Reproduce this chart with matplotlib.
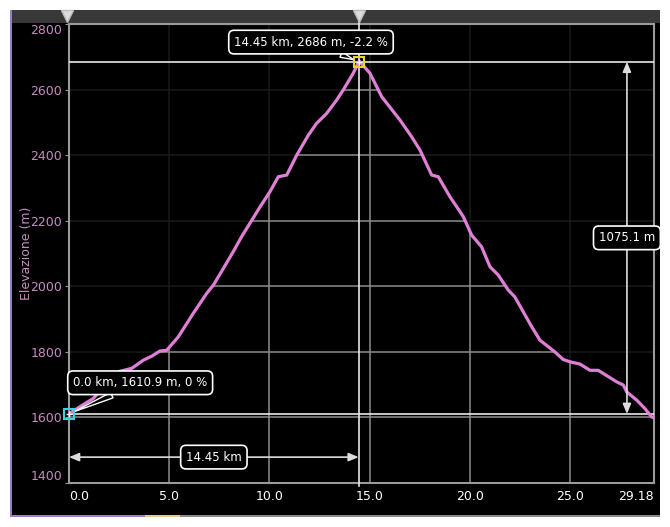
import matplotlib
matplotlib.use('Agg')
import matplotlib.pyplot as plt
import matplotlib.patches as mpatches
import matplotlib.transforms as mtrans

# elevation profile
dist_km = [0.0, 0.6, 1.21, 1.9, 2.54, 3.13, 3.71, 4.12, 4.54, 4.87, 5.45, 6.2,
           6.87, 7.2, 7.7, 8.19, 8.61, 9.53, 10.02, 10.44, 10.86, 11.36, 11.94,
           12.35, 12.85, 13.35, 13.68, 14.18, 14.45, 14.51, 15.01, 15.51, 15.6,
           16.51, 17.09, 17.51, 18.09, 18.42, 19.0, 19.67, 20.08, 20.58, 21.0,
           21.41, 21.91, 22.24, 23.08, 23.49, 24.24, 24.65, 24.99, 25.49, 25.99,
           26.4, 27.31, 27.65, 27.82, 28.32, 28.73, 29.06, 29.18]
elev_m = [1610.9, 1635, 1658, 1705, 1741, 1750, 1775, 1787, 1803, 1805, 1846, 1918,
          1979, 2004, 2055, 2106, 2152, 2243, 2289, 2335, 2340, 2401, 2462,
          2498, 2528, 2569, 2600, 2651, 2686, 2686, 2651, 2590, 2579,
          2508, 2457, 2416, 2340, 2335, 2274, 2213, 2157, 2121, 2060,
          2035, 1989, 1968, 1877, 1836, 1800, 1777, 1770, 1763, 1744,
          1744, 1709, 1699, 1678, 1653, 1627, 1602, 1599]

x_ticks = [0.0, 5.0, 10.0, 15.0, 20.0, 25.0, 29.18]
x_labels = ['0.0', '5.0', '10.0', '15.0', '20.0', '25.0', '29.18']
y_ticks = [1400, 1600, 1800, 2000, 2200, 2400, 2600, 2800]

start_km, start_m, start_grade = 0.0, 1610.9, 0
peak_km, peak_m, peak_grade = 14.45, 2686, -2.2
climb_m = 1075.1
span_km = 14.45

PINK = '#e07fd6'
LABEL_PINK = '#c98ac4'
GRID = '#8c8c8c'
FS = 8.5

fig = plt.figure(figsize=(6.7, 5.27), dpi=100)
fig.patch.set_facecolor('white')

# dark panel behind the chart + top slider bar
W, H = 670.0, 527.0
def panel(x, y, w, h, color, z):
    fig.patches.append(mpatches.Rectangle((x / W, 1 - (y + h) / H), w / W, h / H,
                                          transform=fig.transFigure, fc=color,
                                          ec='none', zorder=z))

panel(11, 10, 649, 505, 'black', -10)
panel(11, 10, 649, 13, '#383838', -9)
panel(10, 10, 1.6, 507, '#9a7cc8', -8)
panel(10, 514.5, 135, 2.5, '#9a7cc8', -8)
panel(145, 514.5, 35, 2.5, '#e6c88e', -8)
panel(180, 514.5, 480, 2.5, '#8a8a8a', -8)

ax = fig.add_axes([69 / W, 1 - 483 / H, 585 / W, 458.6 / H])
ax.set_facecolor('black')
ax.set_xlim(0, 29.18)
ax.set_ylim(1400, 2800)
ax.set_axisbelow(True)
ax.grid(True, color=GRID, lw=1.1)

ax.set_xticks(x_ticks)
ax.set_xticklabels(x_labels)
ax.set_yticks(y_ticks)
ax.tick_params(axis='x', colors='white', labelcolor='white', labelsize=FS + 0.5,
               length=0, pad=5)
ax.tick_params(axis='y', colors='#9a9a9a', labelcolor=LABEL_PINK,
               labelsize=FS + 0.5, length=3, pad=2)
xl = ax.get_xticklabels()
xl[0].set_ha('left')
xl[-1].set_ha('right')
yl = ax.get_yticklabels()
yl[0].set_va('bottom')
yl[-1].set_va('top')
for s in ax.spines.values():
    s.set_color('#9a9a9a')
    s.set_linewidth(1.5)

ax.set_ylabel('Elevazione (m)', color=LABEL_PINK, fontsize=FS + 0.5)
ax.yaxis.set_label_coords((33 - 69) / 585, 0.5)

# dim the grid above the profile
ax.fill_between(dist_km, elev_m, 2800, color='black', alpha=0.82, lw=0, zorder=1)
ax.plot(dist_km, elev_m, color=PINK, lw=2.3, zorder=4, solid_joinstyle='round')

# cursor lines
ax.axhline(peak_m, color='#e8e8e8', lw=1.2, zorder=3)
ax.axhline(start_m, color='#e8e8e8', lw=1.2, zorder=3)
top = mtrans.blended_transform_factory(ax.transData, fig.transFigure)
ax.plot([peak_km, peak_km], [1 - 486 / H, 1 - 14 / H], transform=top,
        color='#e8e8e8', lw=1.2, zorder=3, clip_on=False)
for k in (start_km - 0.1, peak_km):
    ax.plot([k], [1 - 16 / H], transform=top, marker='v', ms=9,
            color='#dcdcdc', mec='#bbbbbb', clip_on=False, zorder=6)

# measurement arrows
arrow = dict(arrowstyle='<|-|>,head_length=0.6,head_width=0.25',
             color='#dddddd', lw=1.2, shrinkA=0, shrinkB=0)
ax.annotate('', xy=(0, 1479), xytext=(span_km, 1479), arrowprops=arrow, zorder=5)
ax.annotate('', xy=(27.83, peak_m), xytext=(27.83, peak_m - climb_m),
            arrowprops=arrow, zorder=5)

box = dict(boxstyle='round,pad=0.45,rounding_size=0.45', fc='black',
           ec='white', lw=1.2)
ax.text(span_km / 2, 1479, f'{span_km} km', color='white', fontsize=FS,
        ha='center', va='center', bbox=box, zorder=6)
ax.text(27.83, peak_m - climb_m / 2, f'{climb_m} m', color='white', fontsize=FS,
        ha='center', va='center', bbox=box, zorder=6)

wedge = dict(arrowstyle='wedge,tail_width=0.5,shrink_factor=0.5', fc='black',
             ec='white', lw=1.0, shrinkA=0, shrinkB=4)
ax.annotate(f'{start_km:.1f} km, {start_m} m, {start_grade} %',
            xy=(start_km, start_m), xytext=(3.55, 1706), color='white',
            fontsize=FS, ha='center', va='center', bbox=box, arrowprops=wedge,
            zorder=7, annotation_clip=False)
ax.annotate(f'{peak_km} km, {peak_m} m, {peak_grade} %',
            xy=(peak_km, peak_m), xytext=(12.07, 2746), color='white',
            fontsize=FS, ha='center', va='center', bbox=box, arrowprops=wedge,
            zorder=7, annotation_clip=False)

# point markers
ax.plot([start_km], [start_m], marker='s', ms=7, mfc='none', mec='#3ad3e0',
        mew=1.5, clip_on=False, zorder=8)
ax.plot([peak_km], [peak_m], marker='s', ms=7, mfc='none', mec='#e6d820',
        mew=1.5, clip_on=False, zorder=8)
for k, m in ((start_km, start_m), (peak_km, peak_m)):
    ax.plot([k], [m], marker='+', ms=5, color='white', mew=1, clip_on=False,
            zorder=9)

# x label, mostly hidden below the panel edge as in the screenshot
t = fig.text(0.5, 1 - 521 / H, 'Distanza (km)', color='#cfcfcf', fontsize=FS,
             ha='center', va='center')
t.set_clip_path(mpatches.Rectangle((0, 1 - 515 / H), 1, 1,
                                   transform=fig.transFigure))

fig.savefig('out.png', dpi=100, facecolor='white')
